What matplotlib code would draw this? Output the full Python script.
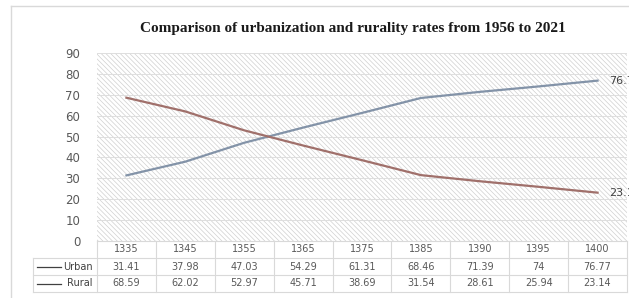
import matplotlib.pyplot as plt
from matplotlib.patches import Rectangle
from matplotlib.lines import Line2D

plt.rcParams['hatch.linewidth'] = 0.5

years = ['1335', '1345', '1355', '1365', '1375', '1385', '1390', '1395', '1400']
urban = [31.41, 37.98, 47.03, 54.29, 61.31, 68.46, 71.39, 74, 76.77]
rural = [68.59, 62.02, 52.97, 45.71, 38.69, 31.54, 28.61, 25.94, 23.14]
urban_txt = ['31.41', '37.98', '47.03', '54.29', '61.31', '68.46', '71.39', '74', '76.77']
rural_txt = ['68.59', '62.02', '52.97', '45.71', '38.69', '31.54', '28.61', '25.94', '23.14']

W, H = 629, 298
urban_col = '#8393a8'
rural_col = '#a0706b'
grid_col = '#d9d9d9'
txt_col = '#595959'


def px(x, y):
    # pixel from top-left -> figure fraction
    return x / W, 1 - y / H


fig = plt.figure(figsize=(W / 100, H / 100), dpi=100)
fig.patch.set_facecolor('white')

# outer chart border (top and left visible)
fig.add_artist(Line2D([px(11, 0)[0], 1], [px(0, 6)[1]] * 2, color='#d9d9d9', lw=1))
fig.add_artist(Line2D([px(11, 0)[0]] * 2, [px(0, 6)[1], 0], color='#d9d9d9', lw=1))

left, right, top, bot = 97, 627, 53, 241
ax = fig.add_axes([left / W, 1 - bot / H, (right - left) / W, (bot - top) / H])
ax.set_xlim(-0.5, len(years) - 0.5)
ax.set_ylim(0, 90)
for s in ax.spines.values():
    s.set_visible(False)
ax.patch.set_visible(False)
ax.add_patch(Rectangle((0, 0), 1, 1, transform=ax.transAxes, facecolor='white',
                       edgecolor='#d0d0d0', lw=0, hatch='\\' * 7, zorder=0))
ax.set_yticks(range(0, 91, 10))
ax.tick_params(axis='y', length=0, pad=12, labelsize=8.5, labelcolor=txt_col)
ax.set_xticks([])
ax.grid(axis='y', color='#dedede', lw=0.7, zorder=1)
ax.set_axisbelow(True)

x = range(len(years))
ax.plot(x, urban, color=urban_col, lw=1.6, zorder=3)
ax.plot(x, rural, color=rural_col, lw=1.6, zorder=3)
ax.annotate('76.77', (8, urban[-1]), xytext=(8, 0), textcoords='offset points',
            ha='left', va='center', fontsize=8, color='#404040', annotation_clip=False)
ax.annotate('23.14', (8, rural[-1]), xytext=(8, 0), textcoords='offset points',
            ha='left', va='center', fontsize=8, color='#404040', annotation_clip=False)

fig.text(px(353, 0)[0], px(0, 32)[1], 'Comparison of urbanization and rurality rates from 1956 to 2021',
         ha='center', va='baseline', fontsize=11, fontweight='bold', family='Liberation Serif',
         color='#1a1a1a')

# data table under the axis
rows_y = [241, 258, 275, 292]
colw = (right - left) / len(years)
tleft = 33


def hline(x0, x1, y):
    fig.add_artist(Line2D([px(x0, 0)[0], px(x1, 0)[0]], [px(0, y)[1]] * 2, color=grid_col, lw=0.8))


def vline(xx, y0, y1):
    fig.add_artist(Line2D([px(xx, 0)[0]] * 2, [px(0, y0)[1], px(0, y1)[1]], color=grid_col, lw=0.8))


hline(left, right, rows_y[0])
for yy in rows_y[1:]:
    hline(tleft, right, yy)
for i in range(len(years) + 1):
    vline(left + i * colw, rows_y[0], rows_y[-1])
vline(tleft, rows_y[1], rows_y[-1])

for i in range(len(years)):
    cx = left + (i + 0.5) * colw
    for r, vals in enumerate([years, urban_txt, rural_txt]):
        cy = (rows_y[r] + rows_y[r + 1]) / 2
        fig.text(*px(cx, cy), vals[i], ha='center', va='center', fontsize=7, color=txt_col)

for r, name in enumerate(['Urban', 'Rural'], start=1):
    cy = (rows_y[r] + rows_y[r + 1]) / 2
    fig.add_artist(Line2D([px(37, 0)[0], px(61, 0)[0]], [px(0, cy)[1]] * 2, color='#404040', lw=0.9))
    fig.text(*px(93, cy), name, ha='right', va='center', fontsize=7, color='#404040')

fig.savefig('out.png', dpi=100)
